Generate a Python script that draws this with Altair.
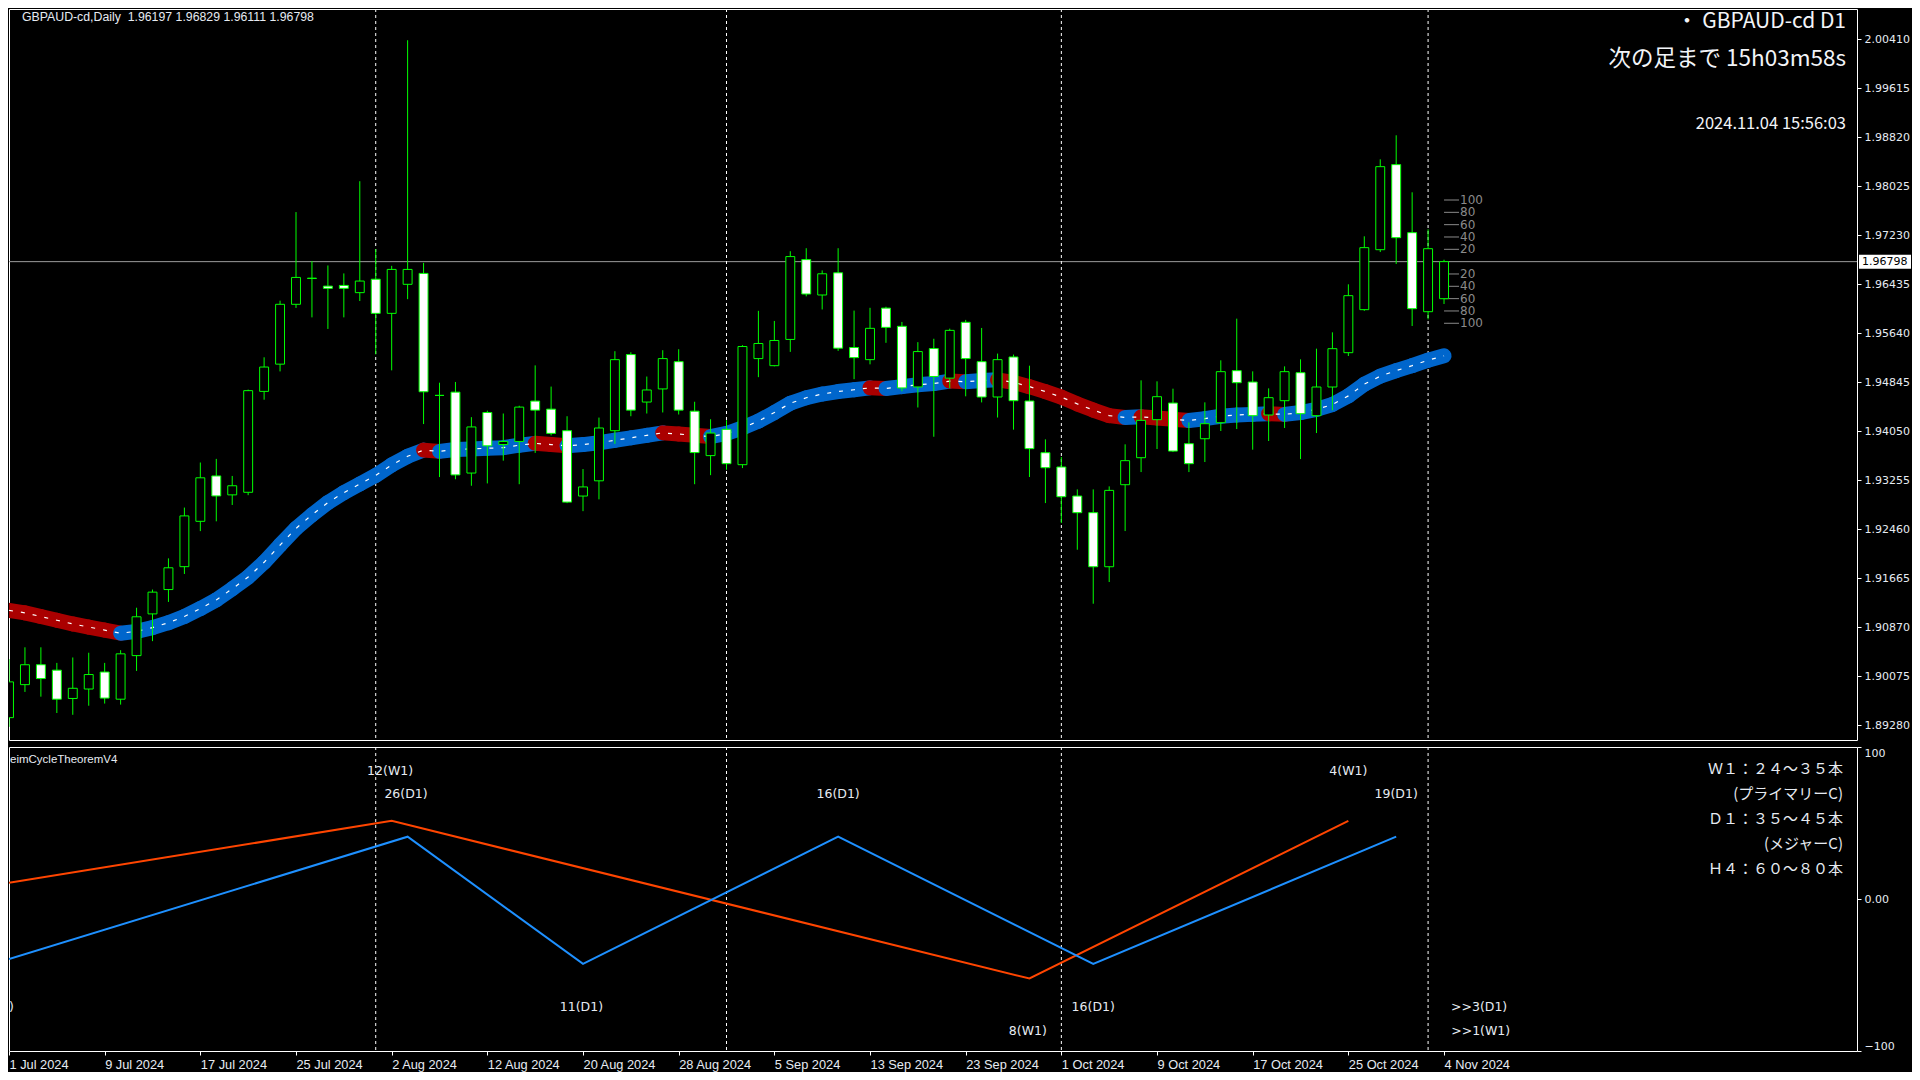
import json
import altair as alt
import pandas as pd
import numpy as np

# ---------------- data ----------------
tick_bars = [0, 6, 12, 18, 24, 30, 36, 42, 48, 54, 60, 66, 72, 78, 84, 90]
tick_labels = ["1 Jul 2024", "9 Jul 2024", "17 Jul 2024", "25 Jul 2024", "2 Aug 2024",
               "12 Aug 2024", "20 Aug 2024", "28 Aug 2024", "5 Sep 2024", "13 Sep 2024",
               "23 Sep 2024", "1 Oct 2024", "9 Oct 2024", "17 Oct 2024", "25 Oct 2024",
               "4 Nov 2024"]

opens = [1.8940, 1.89935, 1.90258, 1.90170, 1.89711, 1.89864, 1.90140, 1.89699, 1.90406, 1.91083,
         1.91478, 1.91849, 1.92585, 1.93321, 1.93014, 1.93056, 1.94693, 1.95135, 1.96106, 1.96530,
         1.96401, 1.96412, 1.96295, 1.96513, 1.95959, 1.96430, 1.96607, 1.94628, 1.94681, 1.93368,
         1.94350, 1.93831, 1.93881, 1.94536, 1.94405, 1.94055, 1.92995, 1.93242, 1.94055, 1.95290,
         1.94520, 1.94733, 1.95175, 1.94372, 1.93651, 1.94077, 1.93504, 1.95225, 1.95110, 1.95536,
         1.96831, 1.96257, 1.96617, 1.95405, 1.95208, 1.96044, 1.95749, 1.94765, 1.95388, 1.94908,
         1.95814, 1.95175, 1.94602, 1.95251, 1.94537, 1.93698, 1.93466, 1.92995, 1.92725, 1.91848,
         1.93179, 1.93617, 1.94234, 1.94504, 1.93844, 1.93925, 1.94185, 1.95029, 1.94845, 1.94310,
         1.94542, 1.94996, 1.94299, 1.94764, 1.95321, 1.96019, 1.96992, 1.98372, 1.97268, 1.95986,
         1.96197]
highs = [1.9035, 1.90541, 1.90541, 1.90288, 1.90376, 1.90453, 1.90288, 1.90494, 1.91183, 1.91478,
         1.91984, 1.92808, 1.93539, 1.93598, 1.93321, 1.94722, 1.95246, 1.96165, 1.97602, 1.96807,
         1.96736, 1.96607, 1.98103, 1.97001, 1.96730, 2.00390, 1.96778, 1.94834, 1.94846, 1.94275,
         1.94380, 1.94334, 1.94460, 1.95115, 1.94771, 1.94290, 1.93433, 1.94268, 1.95345, 1.95328,
         1.94934, 1.95361, 1.95377, 1.94525, 1.94241, 1.94225, 1.95443, 1.96000, 1.95836, 1.96967,
         1.97016, 1.96656, 1.97016, 1.96004, 1.96049, 1.96066, 1.95820, 1.95492, 1.95547, 1.95711,
         1.95853, 1.95722, 1.95306, 1.95290, 1.95110, 1.93915, 1.93628, 1.93103, 1.93103, 1.93152,
         1.93834, 1.94872, 1.94856, 1.94737, 1.94190, 1.94515, 1.95197, 1.95873, 1.95018, 1.94742,
         1.95099, 1.95213, 1.95386, 1.95651, 1.96430, 1.97209, 1.98458, 1.98848, 1.97923, 1.97322,
         1.96829]
lows = [1.8925, 1.89817, 1.89740, 1.89475, 1.89446, 1.89593, 1.89628, 1.89611, 1.90158, 1.90641,
        1.91277, 1.91731, 1.92426, 1.92585, 1.92850, 1.93009, 1.94558, 1.95017, 1.96047, 1.95894,
        1.95706, 1.95894, 1.96159, 1.95294, 1.95034, 1.96189, 1.94163, 1.93303, 1.93268, 1.93162,
        1.93200, 1.93569, 1.93187, 1.93695, 1.93979, 1.92880, 1.92750, 1.92941, 1.93842, 1.94290,
        1.94334, 1.94351, 1.94318, 1.93187, 1.93334, 1.93422, 1.93449, 1.94924, 1.95100, 1.95334,
        1.96235, 1.96022, 1.95350, 1.94891, 1.95132, 1.95481, 1.94695, 1.94432, 1.93957, 1.94744,
        1.94613, 1.94514, 1.94269, 1.94072, 1.93304, 1.92881, 1.92557, 1.92124, 1.91248, 1.91600,
        1.92427, 1.93384, 1.93758, 1.93709, 1.93384, 1.93547, 1.94050, 1.94082, 1.93747, 1.93888,
        1.94099, 1.93595, 1.94017, 1.94385, 1.95267, 1.96000, 1.96954, 1.96760, 1.95754, 1.95862,
        1.96111]
closes = [1.8998, 1.90258, 1.90034, 1.89699, 1.89876, 1.90099, 1.89717, 1.90435, 1.91036, 1.91436,
          1.91831, 1.92673, 1.93291, 1.92997, 1.93162, 1.94705, 1.95088, 1.96106, 1.96542, 1.96525,
          1.96365, 1.96365, 1.96483, 1.95959, 1.96672, 1.96672, 1.94687, 1.94628, 1.93338, 1.94116,
          1.93810, 1.93881, 1.94438, 1.94389, 1.94012, 1.92897, 1.93143, 1.94099, 1.95208, 1.94389,
          1.94716, 1.95225, 1.94389, 1.93700, 1.94017, 1.93520, 1.95421, 1.95470, 1.95519, 1.96880,
          1.96273, 1.96601, 1.95394, 1.95241, 1.95716, 1.95732, 1.94749, 1.95339, 1.94935, 1.95683,
          1.95225, 1.94602, 1.95208, 1.94542, 1.93764, 1.93455, 1.92984, 1.92725, 1.91848, 1.93087,
          1.93569, 1.94223, 1.94607, 1.93725, 1.93520, 1.94169, 1.95013, 1.94834, 1.94299, 1.94591,
          1.95013, 1.94331, 1.94764, 1.95386, 1.96246, 1.97025, 1.98339, 1.97187, 1.96035, 1.97008,
          1.96798]
ma_values = [1.9114, 1.9110, 1.9104, 1.9098, 1.9092, 1.9087, 1.9082, 1.9077, 1.9080, 1.9086,
             1.9094, 1.9104, 1.9117, 1.9131, 1.9149, 1.9168, 1.9192, 1.9220, 1.9247, 1.9269,
             1.9289, 1.9305, 1.9319, 1.9333, 1.9350, 1.9364, 1.9374, 1.9372, 1.9375, 1.9376,
             1.9377, 1.9378, 1.9382, 1.9385, 1.9383, 1.9381, 1.9383, 1.9386, 1.9390, 1.9394,
             1.9398, 1.9402, 1.9400, 1.9398, 1.9396, 1.9401, 1.9410, 1.9421, 1.9435, 1.9450,
             1.9459, 1.9465, 1.9469, 1.9472, 1.9475, 1.9474, 1.9477, 1.9480, 1.9482, 1.9486,
             1.9485, 1.9487, 1.9488, 1.9484, 1.9477, 1.9469, 1.9460, 1.9449, 1.9439, 1.9430,
             1.9427, 1.9428, 1.9426, 1.9424, 1.9422, 1.9425, 1.9429, 1.9431, 1.9432, 1.9433,
             1.9432, 1.9435, 1.9440, 1.9448, 1.9462, 1.9481, 1.9494, 1.9503, 1.9511, 1.9520,
             1.9527]

month_start_bars = [23, 45, 66, 89]
price_ticks = [2.00410, 1.99615, 1.98820, 1.98025, 1.97230, 1.96435, 1.95640, 1.94845,
               1.94050, 1.93255, 1.92460, 1.91665, 1.90870, 1.90075, 1.89280]
current_price = 1.96798
ladder_pips = [100, 80, 60, 40, 20, -20, -40, -60, -80, -100]
ladder_labels = ["100", "80", "60", "40", "20", "20", "40", "60", "80", "100"]

header_text = "GBPAUD-cd,Daily\u00a0 1.96197 1.96829 1.96111 1.96798"
symbol_text = "・ GBPAUD-cd D1"
countdown_text = "次の足まで 15h03m58s"
clock_text = "2024.11.04 15:56:03"

w1_bars = [0, 24, 64, 84]
w1_vals = [10.7, 51.4, -52.3, 51.4]
d1_bars = [0, 25, 36, 52, 68, 87]
d1_vals = [-39.5, 41.0, -42.7, 41.0, -42.7, 41.0]
cycle_label_text = ["12(W1)", "26(D1)", "11(D1)", "16(D1)", "8(W1)", "16(D1)",
                    "4(W1)", "19(D1)", ">>3(D1)", ">>1(W1)", ")"]
cycle_label_bars = [23.9, 24.9, 35.9, 52.0, 63.9, 68.0, 84.0, 87.0, 92.2, 92.3, 0.15]
cycle_label_vals = [84, 69, -71, 69, -87, -71, 84, 69, -71, -87, -71]
indicator_name = "eimCycleTheoremV4"
cycle_notes = ["Ｗ１：２４～３５本", "(プライマリーC)", "Ｄ１：３５～４５本", "(メジャーC)", "Ｈ４：６０～８０本"]

# ---------------- frames ----------------
n = len(closes)
candles = pd.DataFrame({"i": list(range(n)), "O": opens, "H": highs, "L": lows, "C": closes})
candles["kind"] = np.where(candles.C >= candles.O, "bull", "bear")

ma_df = pd.DataFrame({"i": list(range(n)), "ma": ma_values})
seg = pd.DataFrame({"i": list(range(n - 1)), "i2": list(range(1, n)),
                    "ma": ma_values[:-1], "ma2": ma_values[1:]})
seg["dir"] = np.where(seg.ma2 < seg.ma, "down", "up")

ladder = pd.DataFrame({"pips": ladder_pips, "lab": ladder_labels})
ladder["lp"] = current_price + ladder["pips"] * 0.0001
ladder["li"] = n - 1

months = pd.DataFrame({"m": month_start_bars})
price_df = pd.DataFrame({"p": [current_price], "t": ["%.5f" % current_price]})

# ---------------- layout ----------------
W = 1848
H1 = 731
H2 = 304
GREEN = "#00ff00"
TXT = "#e6ebf2"

xs = alt.Scale(domain=[0, 115.9], nice=False, zero=False)
ys = alt.Scale(domain=[1.89037, 2.00897], nice=False, zero=False)
yl = alt.Scale(domain=[-100, 100], nice=False, zero=False)

price_axis = alt.Axis(orient="right", values=price_ticks, format=".5f", grid=False, domain=False,
                      tickColor="white", tickSize=4, labelPadding=3, labelColor=TXT,
                      labelFont="DejaVu Sans", labelFontSize=11, title=None, labelOverlap=False)


def PY(field):
    return alt.Y(field, scale=ys, axis=price_axis)


def TX(field):
    return alt.X(field, scale=xs, axis=None)


month_top = alt.Chart(months).mark_rule(color="white", strokeDash=[3, 3], strokeWidth=1).encode(
    x=TX("m:Q"))

pline = alt.Chart(price_df).mark_rule(color="#9c9c9c", strokeWidth=1).encode(y=PY("p:Q"))

ladder_r = alt.Chart(ladder).mark_rule(color="#8a8a8a", strokeWidth=1, x2Offset=15).encode(
    x=TX("li:Q"), x2="li:Q", y=PY("lp:Q"))
ladder_t = alt.Chart(ladder).mark_text(align="left", baseline="middle", dx=16, font="DejaVu Sans",
                                       fontSize=12, color="#8a8a8a").encode(
    x=TX("li:Q"), y=PY("lp:Q"), text="lab:N")

ma_seg = alt.Chart(seg).mark_rule(strokeWidth=15, strokeCap="round", clip=True).encode(
    x=TX("i:Q"), x2="i2:Q", y=PY("ma:Q"), y2="ma2:Q",
    color=alt.Color("dir:N", scale=alt.Scale(domain=["up", "down"], range=["#0066cc", "#aa0000"]),
                    legend=None))
ma_dash = alt.Chart(ma_df).mark_line(color="white", strokeWidth=1.2, strokeDash=[4, 8], clip=True).encode(
    x=TX("i:Q"), y=PY("ma:Q"))

wicks = alt.Chart(candles).mark_rule(color=GREEN, strokeWidth=1, clip=True).encode(
    x=TX("i:Q"), y=PY("L:Q"), y2="H:Q")
bodies = alt.Chart(candles).transform_calculate(
    x0="datum.i - 0.28", x1="datum.i + 0.28").mark_rect(stroke=GREEN, strokeWidth=1, clip=True).encode(
    x=TX("x0:Q"), x2="x1:Q", y=PY("O:Q"), y2="C:Q",
    fill=alt.Fill("kind:N", scale=alt.Scale(domain=["bull", "bear"], range=["black", "white"]),
                  legend=None))


def label(text, x, y, size, font, align="left", color=TXT):
    return alt.Chart(pd.DataFrame({"t": [text]})).mark_text(
        align=align, baseline="middle", font=font, fontSize=size, color=color).encode(
        x=alt.value(x), y=alt.value(y), text="t:N")


header = label(header_text, 13, 8, 12.3, "Liberation Sans")
sym = label(symbol_text, 1837, 13, 21, "Noto Sans CJK JP", align="right", color="#f2f4f8")
cnt = label(countdown_text, 1837, 49.5, 22.5, "Noto Sans CJK JP", align="right", color="#f2f4f8")
clk = label(clock_text, 1837, 114.5, 16.5, "Noto Sans CJK JP", align="right", color="#f2f4f8")

pbox = alt.Chart(price_df).mark_rect(color="white", yOffset=-7, y2Offset=7).encode(
    x=alt.value(W + 2), x2=alt.value(W + 54), y=PY("p:Q"), y2="p:Q")
ptext = alt.Chart(price_df).mark_text(align="left", baseline="middle", font="DejaVu Sans",
                                      fontSize=11, color="black").encode(
    x=alt.value(W + 5), y=PY("p:Q"), text="t:N")

top = alt.layer(pline, month_top, ladder_r, ladder_t, ma_seg, ma_dash, wicks, bodies,
                header, sym, cnt, clk, pbox, ptext).properties(width=W, height=H1)

# ---------------- lower panel ----------------
label_expr = "%s[indexof(%s, datum.value)]" % (json.dumps(tick_labels).replace('"', "'"),
                                               json.dumps(tick_bars))
date_axis = alt.Axis(values=tick_bars, labelExpr=label_expr, labelAlign="left", labelPadding=3,
                     tickSize=4, tickColor="white", domain=False, grid=False, labelColor=TXT,
                     labelFont="Liberation Sans", labelFontSize=12.8, labelOverlap=False,
                     labelFlush=False, title=None)
osc_axis = alt.Axis(orient="right", values=[100, 0, -100],
                    labelExpr="datum.value == 0 ? '0.00' : datum.label", labelFlush=True,
                    tickSize=4, tickColor="white", domain=False, grid=False, labelColor=TXT,
                    labelFont="DejaVu Sans", labelFontSize=11, labelPadding=3, title=None)


def LX(field):
    return alt.X(field, scale=xs, axis=date_axis)


def LY(field):
    return alt.Y(field, scale=yl, axis=osc_axis)


w1_df = pd.DataFrame({"i": w1_bars, "v": w1_vals})
d1_df = pd.DataFrame({"i": d1_bars, "v": d1_vals})
lab_df = pd.DataFrame({"i": cycle_label_bars, "v": cycle_label_vals, "t": cycle_label_text})

month_low = alt.Chart(months).mark_rule(color="white", strokeDash=[3, 3], strokeWidth=1).encode(
    x=LX("m:Q"))
w1_line = alt.Chart(w1_df).mark_line(color="#ff4500", strokeWidth=2, clip=True).encode(
    x=LX("i:Q"), y=LY("v:Q"))
d1_line = alt.Chart(d1_df).mark_line(color="#1e90ff", strokeWidth=2, clip=True).encode(
    x=LX("i:Q"), y=LY("v:Q"))
cyc_lab = alt.Chart(lab_df).mark_text(align="center", baseline="middle", font="DejaVu Sans",
                                      fontSize=12.5, color=TXT).encode(
    x=LX("i:Q"), y=LY("v:Q"), text="t:N")
ind_name = label(indicator_name, 1, 13, 11.5, "Liberation Sans")
notes = alt.Chart(pd.DataFrame({"t": ["\n".join(cycle_notes)]})).mark_text(
    align="right", baseline="middle", font="Noto Sans CJK JP", fontSize=15, color=TXT,
    lineBreak="\n", lineHeight=25).encode(x=alt.value(1834), y=alt.value(21.5), text="t:N")

low = alt.layer(month_low, w1_line, d1_line, cyc_lab, ind_name, notes).properties(width=W, height=H2)

chart = alt.vconcat(top, low, spacing=5).resolve_scale(
    x="independent", y="independent", color="independent", fill="independent").properties(
    padding=0, background="black").configure_view(stroke="white", strokeWidth=1, fill="black")

chart.save("out.html", embed_options={"renderer": "svg", "actions": False})
